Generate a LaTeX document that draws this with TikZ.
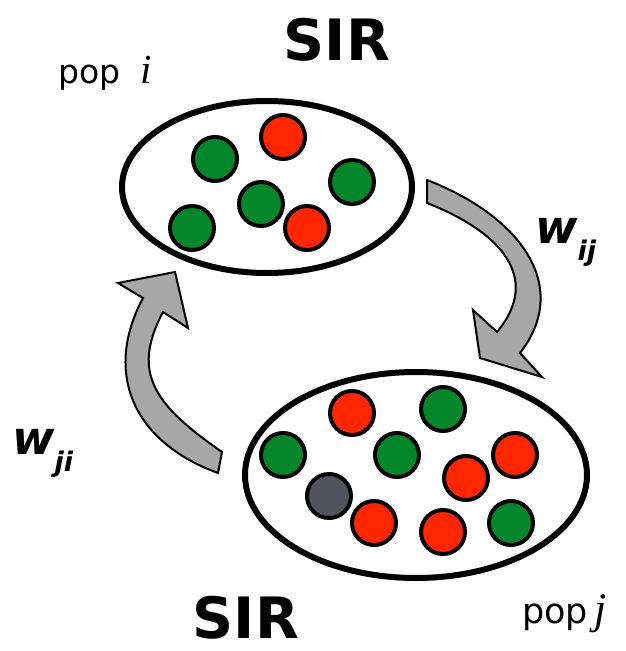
\documentclass[tikz,border=0pt]{standalone}
\usepackage{fontspec}
\setmainfont{DejaVu Sans}
\newfontfamily\serifit{Liberation Serif}[Scale=1.25]
\usetikzlibrary{shapes.geometric}
\definecolor{dotgreen}{RGB}{4,134,43}
\definecolor{dotred}{RGB}{255,38,0}
\definecolor{dotgray}{RGB}{80,84,91}
\definecolor{arrowgray}{RGB}{165,168,166}
\begin{document}
\begin{tikzpicture}[x=1pt,y=-1pt,
  pop/.style={ellipse, draw=black, line width=6pt, inner sep=0pt, fill=white},
  dot/.style={circle, draw=black, line width=4pt, minimum size=44pt, inner sep=0pt},
  gdot/.style={dot, fill=dotgreen},
  rdot/.style={dot, fill=dotred},
  kdot/.style={dot, fill=dotgray},
  flow/.style={fill=arrowgray, draw=black, line width=2pt, line join=miter},
  poplbl/.style={inner sep=0pt, anchor=base west},
  wlbl/.style={inner sep=0pt, anchor=base west, font=\fontsize{46}{46}\selectfont\bfseries\itshape},
  sirlbl/.style={inner sep=0pt, font=\fontsize{57}{57}\selectfont\bfseries},
  ]
\useasboundingbox (0,0) rectangle (626,651);

% populations
\node[pop, minimum width=290pt, minimum height=172pt] (popi) at (267,187) {};
\node[pop, minimum width=342pt, minimum height=206pt] (popj) at (416,475) {};

% individuals in pop i
\node[gdot] (i1) at (215,159) {};
\node[rdot] (i2) at (283,137) {};
\node[gdot] (i3) at (352,182) {};
\node[gdot] (i4) at (261,204) {};
\node[rdot] (i5) at (307,228) {};
\node[gdot] (i6) at (192,228) {};

% individuals in pop j
\node[rdot] (j1) at (352,413) {};
\node[gdot] (j2) at (443,409) {};
\node[gdot] (j3) at (283,455) {};
\node[gdot] (j4) at (397,455) {};
\node[rdot] (j5) at (515,455) {};
\node[rdot] (j6) at (466,478) {};
\node[kdot] (j7) at (329,496) {};
\node[rdot] (j8) at (374,523) {};
\node[rdot] (j9) at (443,532) {};
\node[gdot] (j10) at (511,523) {};

% flow arrows
\draw[flow] (427,180) .. controls (520,216) and (572,286) .. (520,353)
  -- (542,377) -- (480,358) -- (473,310) -- (497,332)
  .. controls (542,278) and (501,232) .. (427,203) -- cycle;
\draw[flow] (222,452) .. controls (156,406) and (130,374) .. (163,312)
  -- (188,328) -- (175,272) -- (118,283) -- (143,298)
  .. controls (103,373) and (133,442) .. (218,473) -- cycle;

% labels
\node[sirlbl] (sirtop) at (337,40) {SIR};
\node[sirlbl] (sirbot) at (246,618) {SIR};
\node[poplbl, font=\fontsize{33}{33}\selectfont] (labi) at (58,83) {pop\hspace{20pt}{\serifit\itshape i}};
\node[poplbl, font=\fontsize{35}{35}\selectfont] (labj) at (522,623) {pop\hspace{6pt}{\serifit\itshape j}};
\node[wlbl] (wij) at (535,243) {w\raisebox{-17pt}{\fontsize{27}{27}\selectfont ij}};
\node[wlbl] (wji) at (12,454) {w\raisebox{-17pt}{\fontsize{27}{27}\selectfont ji}};
\end{tikzpicture}
\end{document}
